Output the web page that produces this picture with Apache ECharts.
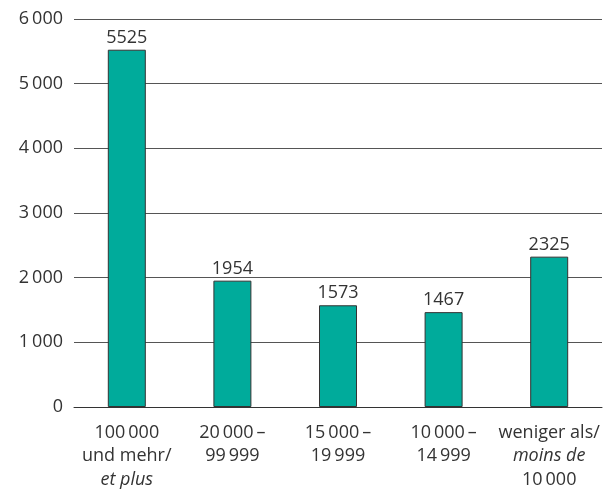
<!DOCTYPE html>
<html><head><meta charset="utf-8">
<script src="https://cdn.jsdelivr.net/npm/echarts@6/dist/echarts.min.js"></script>
<style>html,body{margin:0;padding:0;background:#fff}#c{width:606px;height:492px}</style>
</head><body><div id="c"></div>
<script>
const categories = [
  "100\u2009000\nund mehr/\n{i|et plus}",
  "20\u2009000\u2009–\n99\u2009999",
  "15\u2009000\u2009–\n19\u2009999",
  "10\u2009000\u2009–\n14\u2009999",
  "weniger als/\n{i|moins de}\n10\u2009000"
];
const values = [5525, 1954, 1573, 1467, 2325];
const yTicks = [0, 1000, 2000, 3000, 4000, 5000, 6000];

const fmt = v => String(v).replace(/\B(?=(\d{3})+(?!\d))/g, "\u2009");
const font = "'Open Sans', 'Noto Sans', sans-serif";

const chart = echarts.init(document.getElementById('c'));
chart.setOption({
  animation: false,
  grid: { left: 74, right: 4, top: 19, bottom: 85, containLabel: false },
  xAxis: {
    type: 'category', data: categories,
    axisLine: { lineStyle: { color: '#333', width: 1 } },
    axisTick: { show: false },
    axisLabel: {
      interval: 0, color: '#333', fontFamily: font, fontSize: 18, lineHeight: 23.5, margin: 14,
      rich: { i: { fontStyle: 'italic', fontFamily: font, fontSize: 18, lineHeight: 23.5, color: '#333' } }
    }
  },
  yAxis: {
    type: 'value', min: 0, max: 6000, interval: 1000,
    axisLine: { show: false }, axisTick: { show: false },
    axisLabel: { color: '#333', fontFamily: font, fontSize: 18, margin: 11, formatter: v => fmt(v) },
    splitLine: { lineStyle: { color: '#555', width: 1 } }
  },
  series: [{
    type: 'bar', data: values, barWidth: 38,
    itemStyle: { color: '#00ab9b', borderColor: '#333', borderWidth: 1 },
    label: { show: true, position: 'top', distance: 3, color: '#333', fontFamily: font, fontSize: 18 }
  }]
});
</script></body></html>
